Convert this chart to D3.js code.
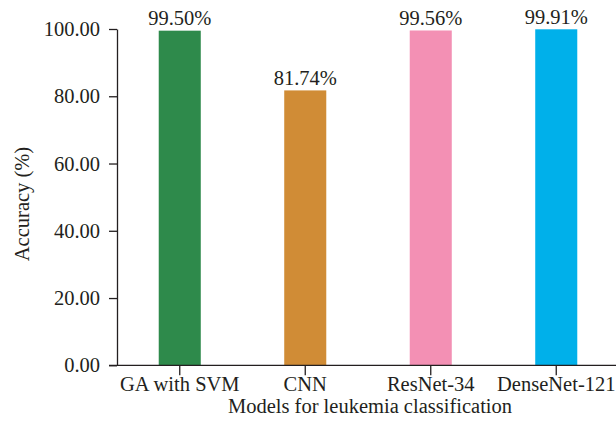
<!DOCTYPE html>
<html><head><meta charset="utf-8">
<script src="https://cdn.jsdelivr.net/npm/d3@7/dist/d3.min.js"></script>
<style>
body{margin:0;background:#fff;}
text{font-family:"Liberation Serif","DejaVu Serif",serif;fill:#231f20;}
</style></head>
<body><svg id="c" width="616" height="434"></svg>
<script>
const categories = ["GA with SVM","CNN","ResNet-34","DenseNet-121"];
const values = [99.50, 81.74, 99.56, 99.91];
const colors = ["#2e8a4b","#d08c36","#f390b4","#00b0ea"];
const yTicks = [0,20,40,60,80,100];
const xTitle = "Models for leukemia classification";
const yTitle = "Accuracy (%)";

(function(){
const svg = d3.select("#c");
const pLeft = 117, pRight = 619, pTop = 29, pBottom = 365.3;
const x = d3.scaleBand().domain(categories).range([pLeft,pRight]).paddingInner(0.665).paddingOuter(0.3325);
const y = d3.scaleLinear().domain([0,100]).range([pBottom,pTop]);
const fs = 20.5;

svg.selectAll("rect.bar").data(values).enter().append("rect")
  .attr("x",(d,i)=>x(categories[i])).attr("width",x.bandwidth())
  .attr("y",d=>y(d)).attr("height",d=>pBottom-y(d)).attr("fill",(d,i)=>colors[i]);

svg.selectAll("text.val").data(values).enter().append("text")
  .attr("x",(d,i)=>x(categories[i])+x.bandwidth()/2).attr("y",d=>y(d)-5.5)
  .attr("text-anchor","middle").style("font-size",fs+"px")
  .text(d=>d.toFixed(2)+"%");

const ya = svg.append("g").attr("transform",`translate(${pLeft},0)`)
  .call(d3.axisLeft(y).tickValues(yTicks).tickFormat(d=>d.toFixed(2)).tickSize(8).tickSizeOuter(0).tickPadding(9));
ya.select(".domain").attr("stroke","#231f20").attr("stroke-width",1.3);
ya.selectAll(".tick line").attr("stroke","#231f20").attr("stroke-width",1.3);
ya.selectAll(".tick text").style("font-size",fs+"px").style("font-family",'"Liberation Serif",serif').attr("fill","#231f20");

const xa = svg.append("g").attr("transform",`translate(0,${pBottom})`)
  .call(d3.axisBottom(x).tickSize(10).tickSizeOuter(0).tickPadding(1));
xa.select(".domain").remove();
xa.append("line").attr("x1",109).attr("x2",616).attr("y1",0).attr("y2",0).attr("stroke","#231f20").attr("stroke-width",1.3);
xa.selectAll(".tick line").attr("stroke","#231f20").attr("stroke-width",1.3);
xa.selectAll(".tick text").style("font-size",fs+"px").style("font-family",'"Liberation Serif",serif').attr("fill","#231f20");

svg.append("text").attr("x",370).attr("y",413).attr("text-anchor","middle").style("font-size",fs+"px").text(xTitle);
svg.append("text").attr("transform","translate(29,204) rotate(-90)").attr("text-anchor","middle").style("font-size",fs+"px").text(yTitle);
})();
</script></body></html>
